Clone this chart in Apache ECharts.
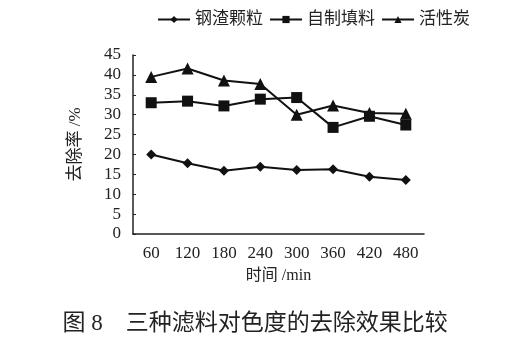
<!DOCTYPE html>
<html><head><meta charset="utf-8">
<script src="https://cdn.jsdelivr.net/npm/echarts@6/dist/echarts.min.js"></script>
<style>html,body{margin:0;padding:0;background:#fff}#c{width:510px;height:349px}</style>
</head><body><div id="c"></div>
<script>
var categories = ['60','120','180','240','300','360','420','480'];
var seriesNames = ['钢渣颗粒','自制填料','活性炭'];
var steelSlag = [20.0, 17.8, 15.9, 16.9, 16.1, 16.3, 14.4, 13.6];
var selfMade = [33.0, 33.4, 32.2, 33.9, 34.3, 26.8, 29.6, 27.4];
var activatedCarbon = [39.5, 41.6, 38.6, 37.7, 30.0, 32.3, 30.4, 30.2];
var yTicks = {min: 0, max: 45, interval: 5};
var font = '"Liberation Serif","Noto Sans CJK SC",serif';
var chart = echarts.init(document.getElementById('c'));
function ser(name, data, symbol, size){
  return {name:name, type:'line', data:data, symbol:symbol, symbolSize:size,
    lineStyle:{color:'#111', width:2}, itemStyle:{color:'#111'}, animation:false};
}
chart.setOption({
  backgroundColor:'#fff',
  textStyle:{fontFamily:font},
  title:{text:'图 8　三种滤料对色度的去除效果比较', left:'center', top:307,
    textStyle:{fontFamily:font, fontSize:23, fontWeight:'normal', color:'#222'}},
  legend:{top:6, left:152, itemGap:6, itemWidth:32, itemHeight:9,
    textStyle:{fontFamily:font, fontSize:17, color:'#222'},
    data:seriesNames},
  grid:{left:133, right:86, top:55, bottom:115},
  xAxis:{type:'category', data:categories, boundaryGap:true,
    name:'时间 /min', nameLocation:'middle', nameGap:34,
    nameTextStyle:{fontFamily:font, fontSize:16, color:'#222'},
    axisLine:{lineStyle:{color:'#222', width:1.5}},
    axisTick:{inside:true, length:4, lineStyle:{color:'#222'}},
    axisLabel:{fontFamily:font, fontSize:17, color:'#222', margin:11}},
  yAxis:{type:'value', min:yTicks.min, max:yTicks.max, interval:yTicks.interval,
    name:'去除率 /%', nameLocation:'middle', nameGap:49, nameRotate:90,
    nameTextStyle:{fontFamily:font, fontSize:17, color:'#222'},
    splitLine:{show:false},
    axisLine:{show:true, lineStyle:{color:'#222', width:1.5}},
    axisTick:{show:true, inside:true, length:3, lineStyle:{color:'#222'}},
    axisLabel:{fontFamily:font, fontSize:17, color:'#222', margin:12}},
  series:[
    ser(seriesNames[0], steelSlag, 'diamond', 10),
    ser(seriesNames[1], selfMade, 'rect', 11),
    ser(seriesNames[2], activatedCarbon, 'triangle', 12)
  ]
});
</script></body></html>
